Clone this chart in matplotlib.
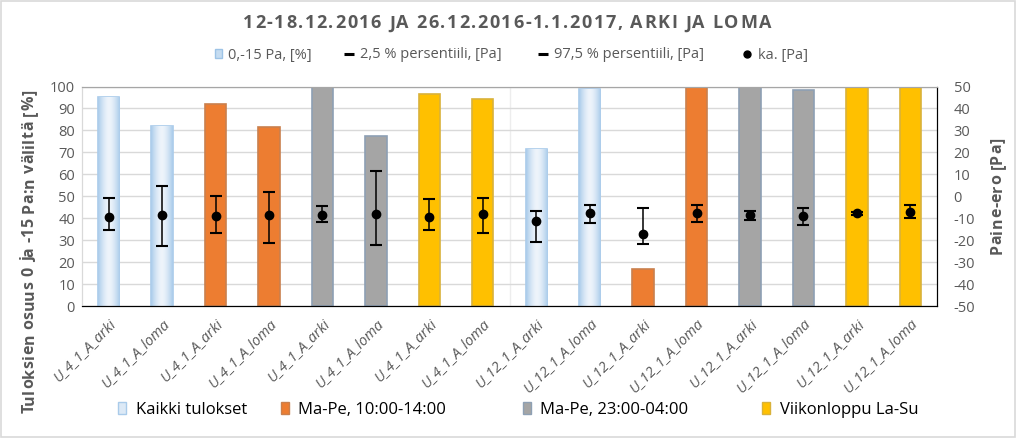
import matplotlib
matplotlib.use("Agg")
import matplotlib.pyplot as plt
import numpy as np
from matplotlib.colors import LinearSegmentedColormap
from matplotlib.patches import Patch, Rectangle
from matplotlib.lines import Line2D

plt.rcParams['font.family'] = ['Open Sans', 'DejaVu Sans']
plt.rcParams['axes.unicode_minus'] = False

# data
labels = ["U_4_1_A_arki", "U_4_1_A_loma", "U_4_1_A_arki", "U_4_1_A_loma",
          "U_4_1_A_arki", "U_4_1_A_loma", "U_4_1_A_arki", "U_4_1_A_loma",
          "U_12_1_A_arki", "U_12_1_A_loma", "U_12_1_A_arki", "U_12_1_A_loma",
          "U_12_1_A_arki", "U_12_1_A_loma", "U_12_1_A_arki", "U_12_1_A_loma"]
groups = [0, 0, 1, 1, 2, 2, 3, 3, 0, 0, 1, 1, 2, 2, 3, 3]
share = [95.4, 82, 92, 81.5, 100, 77.4, 96.7, 94.3,
         71.7, 99, 16.9, 100, 100, 98.4, 100, 100]
mean_pa = [-9.3, -8.5, -8.9, -8.4, -8.5, -8.1, -9.3, -8.1,
           -11.3, -7.8, -17.1, -7.5, -8.5, -9.0, -7.8, -7.0]
p975 = [-1.0, 4.7, 0.1, 1.8, -4.4, 11.6, -1.3, -1.0,
        -6.6, -4.0, -5.2, -3.8, -6.6, -5.5, -7.2, -3.8]
p25 = [-15.4, -22.5, -16.6, -21.2, -11.6, -22.2, -15.4, -16.9,
       -21.0, -12.1, -21.9, -11.9, -10.7, -13.1, -8.6, -9.8]
group_names = ["Kaikki tulokset", "Ma-Pe, 10:00-14:00",
               "Ma-Pe, 23:00-04:00", "Viikonloppu La-Su"]
top_labels = ["0,-15 Pa, [%]", "2,5 % persentiili, [Pa]",
              "97,5 % persentiili, [Pa]", "ka. [Pa]"]

face = ["#DCE9F6", "#ED7D31", "#A5A5A5", "#FFC000"]
edge = ["#A9CBEA", "#C9804E", "#8EA0B4", "#D9B23A"]
grey = "#595959"

W, H = 1017, 438
fig = plt.figure(figsize=(W / 100, H / 100), dpi=100)
fig.patches.append(Rectangle((0.001, 0.002), 0.997, 0.995, transform=fig.transFigure,
                             fill=False, edgecolor="#D9D9D9", lw=1.2))
renderer = fig.canvas.get_renderer()


def spaced_text(s, x0, y0, length, rot=0, **kw):
    # write s char by char so that it spans `length` pixels (letter spacing)
    probe = fig.text(0, 0, "aa", **kw)
    base = probe.get_window_extent(renderer).width
    adv = []
    for ch in s:
        probe.set_text("a" + ch + "a")
        adv.append(probe.get_window_extent(renderer).width - base)
    probe.remove()
    gap = (length - sum(adv)) / (len(s) - 1)
    pos = 0.0
    for ch, a in zip(s, adv):
        if rot == 0:
            px, py = x0 + pos, y0
        else:
            px, py = x0, y0 + pos
        fig.text(px / W, py / H, ch, rotation=rot, rotation_mode="anchor",
                 ha="left", va="baseline", **kw)
        pos += a + gap


ax = fig.add_axes([82 / W, 1 - 306 / H, 855 / W, 219.5 / H])
x = np.arange(len(labels))

ax.set_ylim(0, 100)
ax.set_yticks(np.arange(0, 101, 10))
ax.yaxis.grid(True, color="#D9D9D9", lw=1)
ax.set_axisbelow(True)
ax.axvline(7.5, color="#EDEDED", lw=1, zorder=0)

cmap = LinearSegmentedColormap.from_list("g", ["#EEF4FB", "#A9CBEA"])
grad = np.abs(np.linspace(-1, 1, 64))[None, :] ** 1.6
for xi, v, g in zip(x, share, groups):
    b = ax.bar(xi, v, width=0.4, color=face[g], edgecolor=edge[g], lw=1.2, zorder=2)[0]
    if g == 0:
        im = ax.imshow(grad, extent=[xi - 0.2, xi + 0.2, 0, v], aspect="auto",
                       cmap=cmap, zorder=2.5, interpolation="bicubic")
        im.set_clip_path(b)
ax.set_xticks(x)
ax.set_xticklabels(labels, rotation=45, ha="right", rotation_mode="anchor",
                   style="italic", color=grey, fontsize=10.5)
ax.tick_params(axis="x", length=0, pad=7)
ax.tick_params(axis="y", length=0, colors=grey, labelsize=10.5, pad=5)
ax.set_xlim(-0.5, len(labels) - 0.5)

ax2 = ax.twinx()
ax2.set_ylim(-50, 50)
ax2.set_yticks(np.arange(-50, 51, 10))
ax2.tick_params(axis="y", length=0, colors=grey, labelsize=10.5, pad=12)
m = np.array(mean_pa)
ax2.errorbar(x, m, yerr=[m - np.array(p25), np.array(p975) - m], fmt="o",
             color="black", ms=6, elinewidth=1.1, capsize=4, capthick=1.5, zorder=5)

for a in (ax, ax2):
    a.spines["top"].set_color("#A6A6A6")
    a.spines["left"].set_color("#D9D9D9")
    a.spines["right"].set_color("black")
    a.spines["bottom"].set_color("black")

spaced_text("12-18.12.2016 JA 26.12.2016-1.1.2017, ARKI JA LOMA", 243, H - 28.5, 528,
            fontsize=13, fontweight="bold", color=grey)
spaced_text("Tuloksien osuus 0 ja -15 Pa:n väliltä [%]", 33.5, H - 413, 323, rot=90,
            fontsize=11.5, fontweight="bold", color=grey)
spaced_text("Paine-ero [Pa]", 1001.5, H - 254, 116, rot=90,
            fontsize=11.5, fontweight="bold", color=grey)

# top legend, one entry at a time at the reference positions
top_handles = [Patch(facecolor="#C5DCF1", edgecolor="#9DC3E6"),
               Line2D([], [], marker="_", color="black", ls="", ms=7, mew=2.2),
               Line2D([], [], marker="_", color="black", ls="", ms=7, mew=2.2),
               Line2D([], [], marker="o", color="black", ls="", ms=5)]
top_x = [215, 343, 537, 741]
top_hl = [0.5, 0.8, 0.8, 0.8]
for h, lab, xp, hl in zip(top_handles, top_labels, top_x, top_hl):
    fig.legend([h], [lab], loc="center left", bbox_to_anchor=(xp / W, 1 - 55 / H),
               frameon=False, fontsize=10.5, labelcolor=grey, handlelength=hl,
               handleheight=0.55, handletextpad=0.4, borderpad=0, borderaxespad=0)

bot_x = [118, 281, 523, 762]
for i, (lab, xp) in enumerate(zip(group_names, bot_x)):
    fig.legend([Patch(facecolor=face[i], edgecolor=edge[i])], [lab], loc="center left",
               bbox_to_anchor=(xp / W, 1 - 410 / H), frameon=False, fontsize=12,
               labelcolor="black", handlelength=0.45, handleheight=0.75,
               handletextpad=0.6, borderpad=0, borderaxespad=0)

fig.savefig("out.png", dpi=100)
